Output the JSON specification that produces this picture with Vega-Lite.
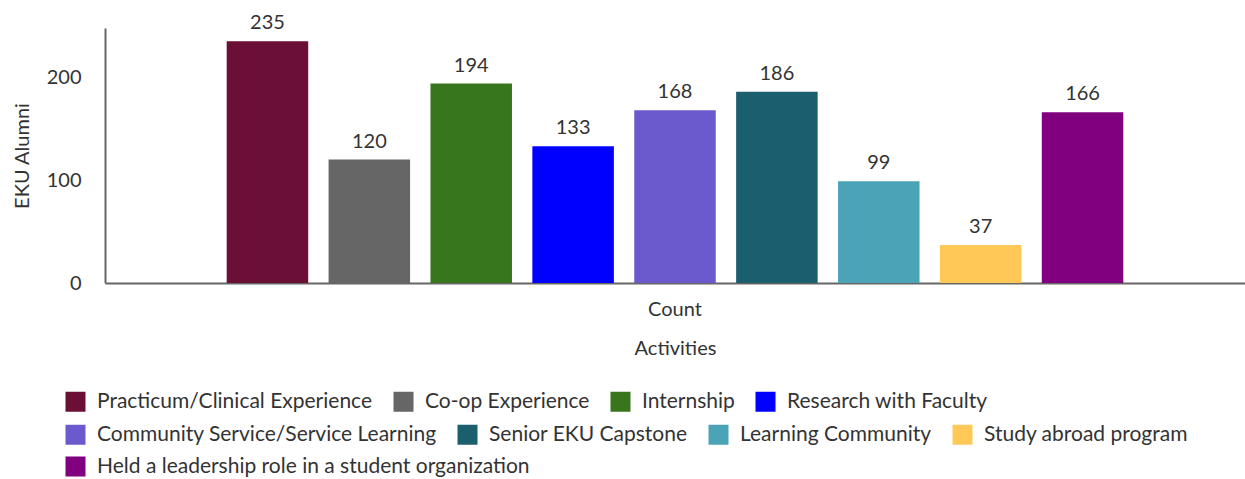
{
  "$schema": "https://vega.github.io/schema/vega-lite/v6.json",
  "autosize": {"type": "none"},
  "width": 1140,
  "height": 255,
  "padding": {"left": 105, "top": 28, "right": 0, "bottom": 196},
  "config": {
    "font": "Lato",
    "view": {"stroke": null},
    "axis": {"labelFont": "Lato", "titleFont": "Lato", "labelColor": "#333333", "titleColor": "#333333", "labelFontSize": 20, "titleFontSize": 20, "titleFontWeight": "normal", "grid": false, "ticks": false, "domainColor": "#666666", "domainWidth": 2},
    "legend": {"labelFont": "Lato", "labelFontSize": 21, "labelColor": "#333333", "title": null, "orient": "none", "legendX": -40, "direction": "horizontal", "symbolType": "square", "symbolSize": 400, "symbolStrokeWidth": 0, "labelLimit": 600, "columnPadding": 20, "labelOffset": 11}
  },
  "data": {"values": [
    {"group": "Count", "activity": "Practicum/Clinical Experience", "value": 235},
    {"group": "Count", "activity": "Co-op Experience", "value": 120},
    {"group": "Count", "activity": "Internship", "value": 194},
    {"group": "Count", "activity": "Research with Faculty", "value": 133},
    {"group": "Count", "activity": "Community Service/Service Learning", "value": 168},
    {"group": "Count", "activity": "Senior EKU Capstone", "value": 186},
    {"group": "Count", "activity": "Learning Community", "value": 99},
    {"group": "Count", "activity": "Study abroad program", "value": 37},
    {"group": "Count", "activity": "Held a leadership role in a student organization", "value": 166}
  ]},
  "encoding": {
    "x": {"field": "group", "type": "nominal", "scale": {"paddingInner": 0, "paddingOuter": 0.1216}, "axis": {"labelAngle": 0, "title": "Activities", "labelPadding": 16, "titlePadding": 19}},
    "xOffset": {"field": "activity", "type": "nominal", "sort": null, "scale": {"domain": ["Practicum/Clinical Experience", "Co-op Experience", "Internship", "Research with Faculty", "Community Service/Service Learning", "Senior EKU Capstone", "Learning Community", "Study abroad program", "Held a leadership role in a student organization"], "paddingInner": 0.2, "paddingOuter": 0.1}},
    "y": {"field": "value", "type": "quantitative", "scale": {"domain": [0, 248]}, "axis": {"title": "EKU Alumni", "values": [0, 100, 200], "labelPadding": 24, "titlePadding": 14}}
  },
  "layer": [
    {
      "transform": [{"filter": {"field": "activity", "oneOf": ["Practicum/Clinical Experience", "Co-op Experience", "Internship", "Research with Faculty"]}}],
      "mark": {"type": "bar"},
      "encoding": {
        "color": {
          "field": "activity", "type": "nominal", "sort": null,
          "scale": {"domain": ["Practicum/Clinical Experience", "Co-op Experience", "Internship", "Research with Faculty"], "range": ["#6B0F36", "#666666", "#38761D", "#0000FF"]},
          "legend": {"legendY": 363}
        }
      }
    },
    {
      "transform": [{"filter": {"field": "activity", "oneOf": ["Community Service/Service Learning", "Senior EKU Capstone", "Learning Community", "Study abroad program"]}}],
      "mark": {"type": "bar"},
      "encoding": {
        "color": {
          "field": "activity", "type": "nominal", "sort": null,
          "scale": {"domain": ["Community Service/Service Learning", "Senior EKU Capstone", "Learning Community", "Study abroad program"], "range": ["#6A5ACD", "#1B5E6E", "#4BA3B8", "#FFC857"]},
          "legend": {"legendY": 396}
        }
      }
    },
    {
      "transform": [{"filter": {"field": "activity", "oneOf": ["Held a leadership role in a student organization"]}}],
      "mark": {"type": "bar"},
      "encoding": {
        "color": {
          "field": "activity", "type": "nominal", "sort": null,
          "scale": {"domain": ["Held a leadership role in a student organization"], "range": ["#800080"]},
          "legend": {"legendY": 428}
        }
      }
    },
    {
      "mark": {"type": "text", "baseline": "bottom", "dy": -8, "fontSize": 20, "color": "#333333", "font": "Lato"},
      "encoding": {"text": {"field": "value", "type": "quantitative"}}
    }
  ],
  "resolve": {"scale": {"color": "independent"}, "legend": {"color": "independent"}}
}
